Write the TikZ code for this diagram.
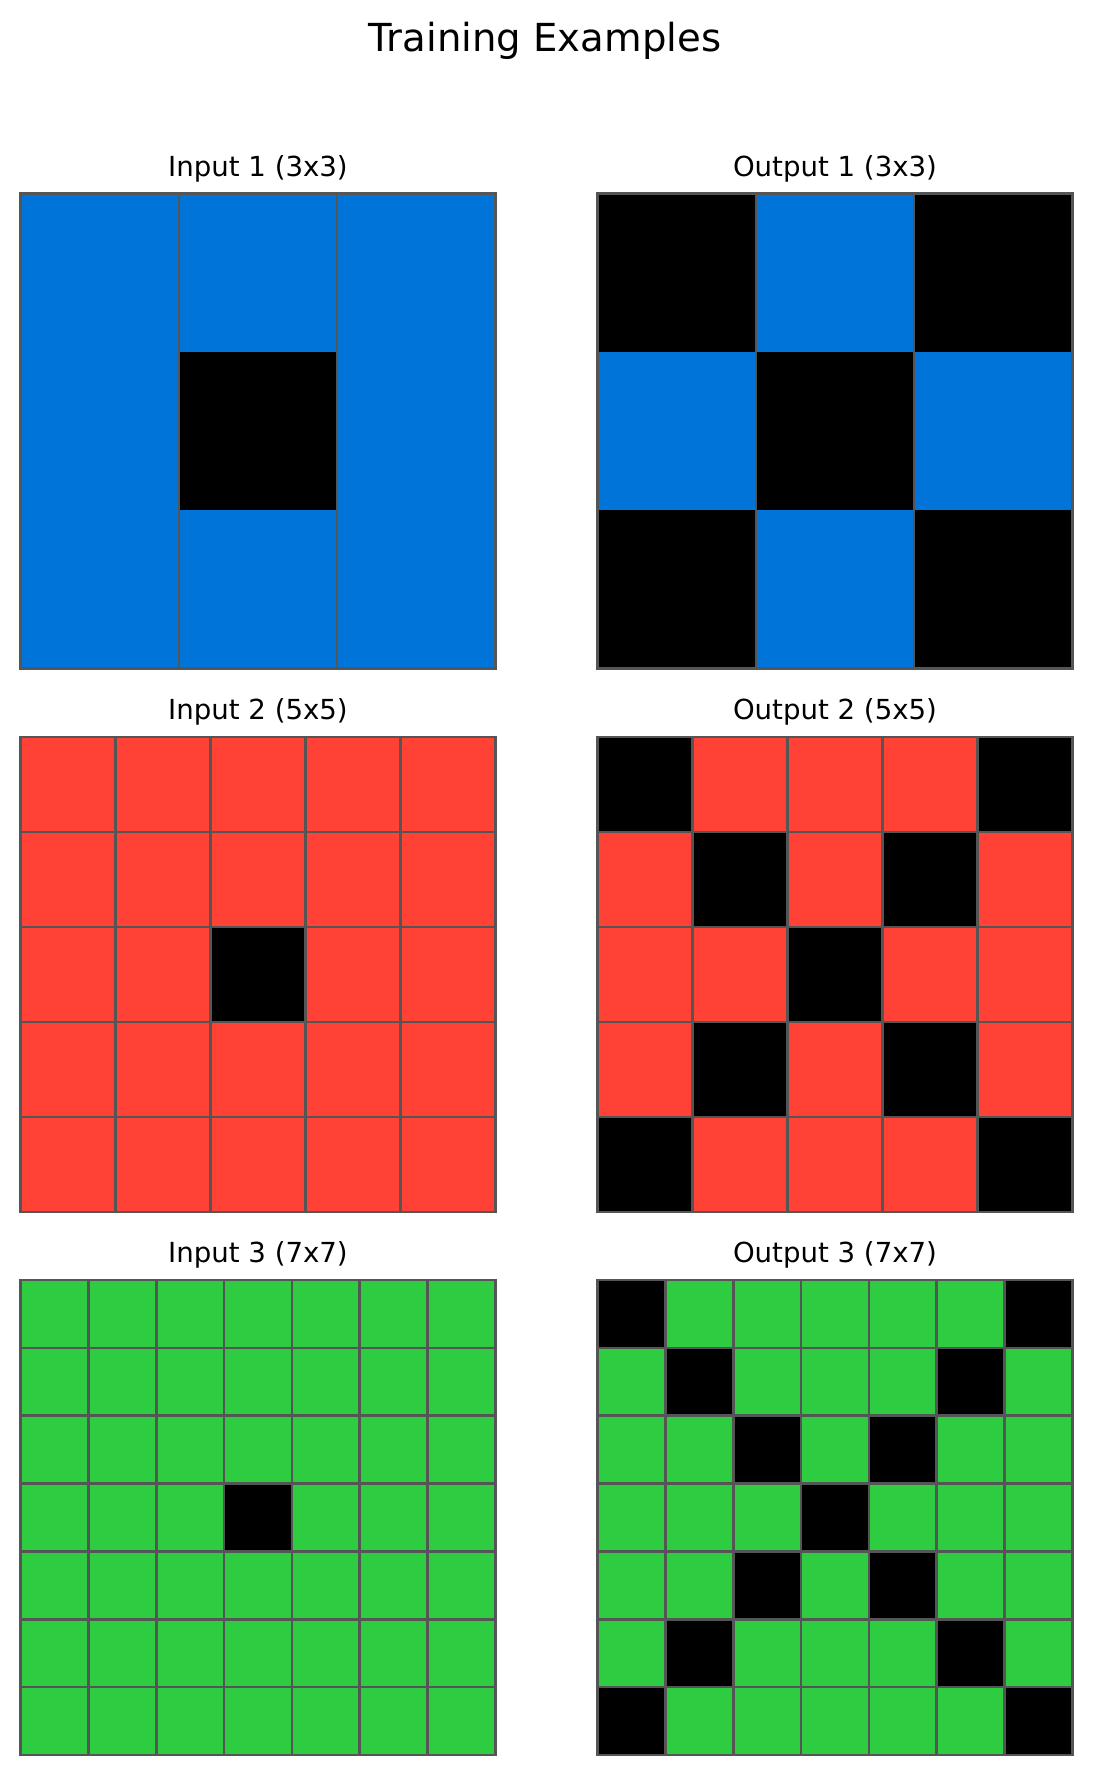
\documentclass[tikz,border=0pt]{standalone}
\usepackage{fontspec}
\setmainfont{DejaVu Sans}
\definecolor{arcblue}{HTML}{0074D9}
\definecolor{arcred}{HTML}{FF4136}
\definecolor{arcgreen}{HTML}{2ECC40}
\definecolor{gridgray}{HTML}{555555}
\tikzset{
  gline/.style={draw=gridgray, line width=2.6pt},
  ttl/.style={anchor=base, inner sep=0pt, font=\fontsize{38.6}{46}\selectfont},
  sub/.style={anchor=base, inner sep=0pt, font=\fontsize{27.6}{33}\selectfont},
}
% \gridpic{x0}{ytop}{n}{color}{mode}{hlines}  mode 0 = input (center black), 1 = output (X pattern)
\newcommand{\gridpic}[6]{%
  \pgfmathsetmacro\cs{475/#3}%
  \foreach \i in {1,...,#3} {%
    \foreach \j in {1,...,#3} {%
      \pgfmathtruncatemacro\mid{(#3+1)/2}%
      \ifnum#5=0
        \pgfmathtruncatemacro\isb{and(\i==\mid,\j==\mid)}%
      \else
        \pgfmathtruncatemacro\isb{or(\i==\j,\i+\j==#3+1)}%
      \fi
      \ifnum\isb=1 \def\cc{black}\else\def\cc{#4}\fi
      \fill[\cc] ({#1+(\j-1)*\cs},{-(#2+(\i-1)*\cs)}) rectangle ({#1+\j*\cs},{-(#2+\i*\cs)});
    }%
  }%
  \pgfmathtruncatemacro\nm{#3-1}%
  \foreach \k in {1,...,\nm} {%
    \draw[gline] ({#1+\k*\cs},{-#2}) -- ({#1+\k*\cs},{-(#2+475)});
    \ifnum#6=1
      \draw[gline] ({#1},{-(#2+\k*\cs)}) -- ({#1+475},{-(#2+\k*\cs)});
    \fi
  }%
  \draw[gline] ({#1},{-#2}) rectangle ({#1+475},{-(#2+475)});
}
\begin{document}
\begin{tikzpicture}[x=1pt,y=1pt]
\useasboundingbox (0,0) rectangle (1092,-1774);
\node[ttl] (title) at (545,-51.7) {Training Examples};

\node[sub] (in1) at (258,-176) {Input 1 (3x3)};
\node[sub] (out1) at (835,-176) {Output 1 (3x3)};
\gridpic{20.5}{193.5}{3}{arcblue}{0}{0}
\gridpic{597.5}{193.5}{3}{arcblue}{1}{0}

\node[sub] (in2) at (258,-719.5) {Input 2 (5x5)};
\node[sub] (out2) at (835,-719.5) {Output 2 (5x5)};
\gridpic{20.5}{737}{5}{arcred}{0}{1}
\gridpic{597.5}{737}{5}{arcred}{1}{1}

\node[sub] (in3) at (258,-1262.5) {Input 3 (7x7)};
\node[sub] (out3) at (835,-1262.5) {Output 3 (7x7)};
\gridpic{20.5}{1280}{7}{arcgreen}{0}{1}
\gridpic{597.5}{1280}{7}{arcgreen}{1}{1}
\end{tikzpicture}
\end{document}
